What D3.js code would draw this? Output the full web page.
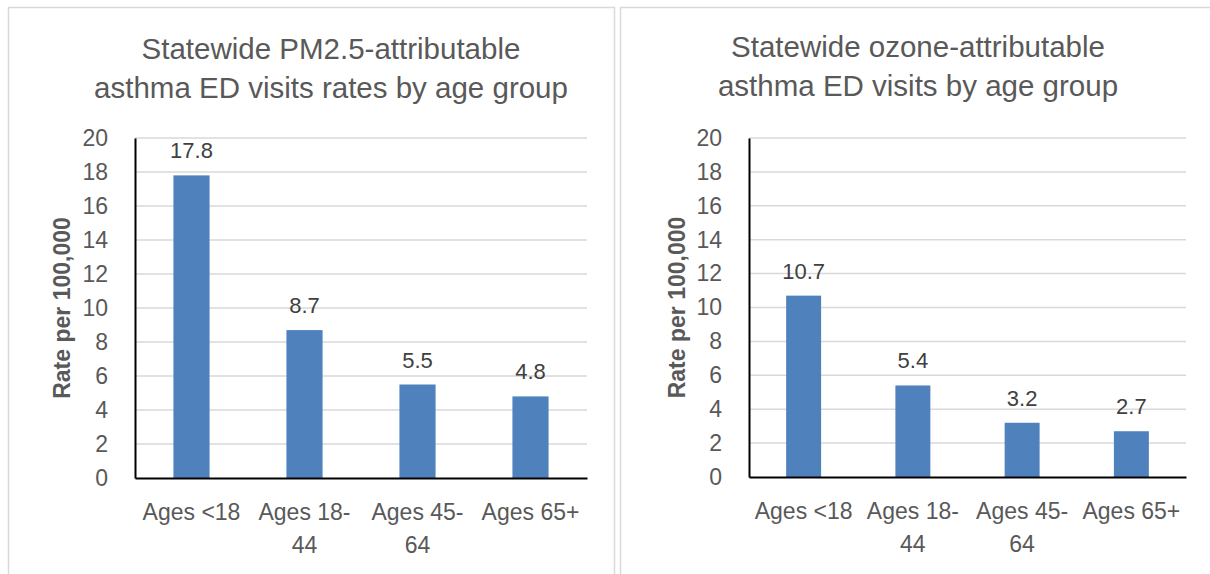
<!DOCTYPE html>
<html><head><meta charset="utf-8">
<script src="https://cdn.jsdelivr.net/npm/d3@7"></script>
<style>body{margin:0;background:#fff;} text{font-family:"Liberation Sans",Arial,sans-serif;}</style>
</head><body>
<svg id="c" width="1210" height="574"></svg>
<script>
const categories = [["Ages <18"], ["Ages 18-", "44"], ["Ages 45-", "64"], ["Ages 65+"]];
const pmValues = [17.8, 8.7, 5.5, 4.8];
const ozoneValues = [10.7, 5.4, 3.2, 2.7];
const yTicks = [0, 2, 4, 6, 8, 10, 12, 14, 16, 18, 20];
const titles = [["Statewide PM2.5-attributable", "asthma ED visits rates by age group"],
                ["Statewide ozone-attributable", "asthma ED visits by age group"]];
const yTitle = "Rate per 100,000";

const svg = d3.select("#c");
const panels = [
  {box:[8,7,606,580], x0:135, x1:587, top:138, bottom:478, titleX:331, titleY:[59,98], yTitleX:70, vals:pmValues, title:titles[0]},
  {box:[620,7,600,580], x0:749, x1:1186, top:138, bottom:477, titleX:918, titleY:[57,96], yTitleX:685, vals:ozoneValues, title:titles[1]}
];
panels.forEach(p=>{
  svg.append("rect").attr("x",p.box[0]+0.5).attr("y",p.box[1]+0.5).attr("width",p.box[2]).attr("height",p.box[3])
    .attr("fill","#fff").attr("stroke","#d9d9d9").attr("stroke-width",1.5);
  const y = d3.scaleLinear().domain([0,20]).range([p.bottom,p.top]);
  const x = d3.scaleBand().domain(categories.map(c=>c.join(""))).range([p.x0,p.x1]).paddingInner(0.68).paddingOuter(0.34);
  const g = svg.append("g");
  g.selectAll("line.grid").data(yTicks.filter(t=>t>0)).join("line")
    .attr("x1",p.x0).attr("x2",p.x1).attr("y1",d=>y(d)).attr("y2",d=>y(d))
    .attr("stroke","#d9d9d9").attr("stroke-width",1.5);
  const ya = g.append("g").attr("transform",`translate(${p.x0},0)`).call(d3.axisLeft(y).tickValues(yTicks).tickSize(0).tickPadding(27));
  ya.select(".domain").attr("stroke","#000").attr("stroke-width",2);
  ya.selectAll("text").attr("font-size",23).attr("fill","#595959");
  g.selectAll("rect.bar").data(p.vals).join("rect")
    .attr("x",(d,i)=>x(categories[i].join(""))).attr("width",x.bandwidth())
    .attr("y",d=>y(d)).attr("height",d=>y(0)-y(d)).attr("fill","#4f81bd");
  g.selectAll("text.val").data(p.vals).join("text")
    .attr("x",(d,i)=>x(categories[i].join(""))+x.bandwidth()/2).attr("y",d=>y(d)-17)
    .attr("text-anchor","middle").attr("font-size",22).attr("fill","#404040").text(d=>d.toFixed(1));
  const xa = g.append("g").attr("transform",`translate(0,${p.bottom})`).call(d3.axisBottom(x).tickSize(0).tickFormat(""));
  xa.select(".domain").attr("stroke","#000").attr("stroke-width",2);
  categories.forEach((c,i)=>{
    c.forEach((line,j)=>{
      g.append("text").attr("x",x(c.join(""))+x.bandwidth()/2).attr("y",p.bottom+42+j*33)
        .attr("text-anchor","middle").attr("font-size",23).attr("fill","#595959").text(line);
    });
  });
  p.title.forEach((t,j)=>{
    svg.append("text").attr("x",p.titleX).attr("y",p.titleY[j]).attr("text-anchor","middle")
      .attr("font-size",29.5).attr("fill","#595959").text(t);
  });
  svg.append("text").attr("transform",`translate(${p.yTitleX},${(p.top+p.bottom)/2}) rotate(-90)`)
    .attr("text-anchor","middle").attr("font-size",23).attr("font-weight","bold").attr("fill","#595959").text(yTitle);
});
</script>
</body></html>
